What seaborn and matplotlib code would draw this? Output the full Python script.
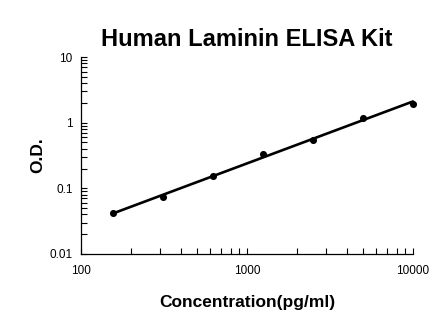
import numpy as np
import pandas as pd
import matplotlib
matplotlib.use("Agg")
import matplotlib.pyplot as plt
import seaborn as sns
from matplotlib.ticker import LogLocator, FixedLocator, NullFormatter

# Standard curve data
concentration = [156.25, 312.5, 625, 1250, 2500, 5000, 10000]
od_values = [0.042, 0.074, 0.154, 0.33, 0.54, 1.19, 1.95]
x_ticks = [100, 1000, 10000]
x_tick_labels = ["100", "1000", "10000"]
y_ticks = [0.01, 0.1, 1, 10]
y_tick_labels = ["0.01", "0.1", "1", "10"]

sns.set_style("white")
plt.rcParams["font.family"] = ["Liberation Sans", "DejaVu Sans"]
plt.rcParams["text.color"] = "black"
plt.rcParams["axes.labelcolor"] = "black"

df = pd.DataFrame({"conc": concentration, "od": od_values})

# Power-law trendline fitted in log-log space
slope, intercept = np.polyfit(np.log10(df["conc"]), np.log10(df["od"]), 1)
fit_x = np.array([min(concentration), max(concentration)])
fit = pd.DataFrame({"conc": fit_x, "od": 10 ** (intercept + slope * np.log10(fit_x))})

fig = plt.figure(figsize=(4.46, 3.26), dpi=100)
ax = fig.add_axes([0.1816, 0.221, 0.7444, 0.604])

sns.lineplot(data=fit, x="conc", y="od", ax=ax, color="black", linewidth=1.9,
             clip_on=False)
sns.scatterplot(data=df, x="conc", y="od", ax=ax, color="black", s=26,
                edgecolor="black", linewidth=0, zorder=3, clip_on=False)

ax.set_xscale("log")
ax.set_yscale("log")
ax.set_xlim(100, 10000)
ax.set_ylim(0.01, 10)

ax.xaxis.set_major_locator(FixedLocator(x_ticks))
ax.set_xticklabels(x_tick_labels)
ax.yaxis.set_major_locator(FixedLocator(y_ticks))
ax.set_yticklabels(y_tick_labels)
ax.xaxis.set_minor_locator(LogLocator(base=10, subs=np.arange(2, 10)))
ax.yaxis.set_minor_locator(LogLocator(base=10, subs=np.arange(2, 10)))
ax.xaxis.set_minor_formatter(NullFormatter())
ax.yaxis.set_minor_formatter(NullFormatter())

ax.tick_params(axis="both", which="both", direction="in", length=4, width=0.8,
               color="black", labelsize=8.5, labelcolor="black",
               bottom=True, left=True, top=False, right=False)
ax.tick_params(axis="x", which="major", pad=8)
ax.tick_params(axis="y", which="major", pad=6)

for side in ("top", "right"):
    ax.spines[side].set_visible(False)
for side in ("left", "bottom"):
    ax.spines[side].set_color("black")
    ax.spines[side].set_linewidth(0.9)

ax.set_xlabel("Concentration(pg/ml)", fontsize=12.5, fontweight="bold",
              labelpad=13, color="black")
ax.set_ylabel("O.D.", fontsize=12.5, fontweight="bold", labelpad=3, color="black")
ax.set_title("Human Laminin ELISA Kit", fontsize=17, fontweight="bold", pad=8,
             color="black")

fig.savefig("out.png", dpi=100, facecolor="white")
